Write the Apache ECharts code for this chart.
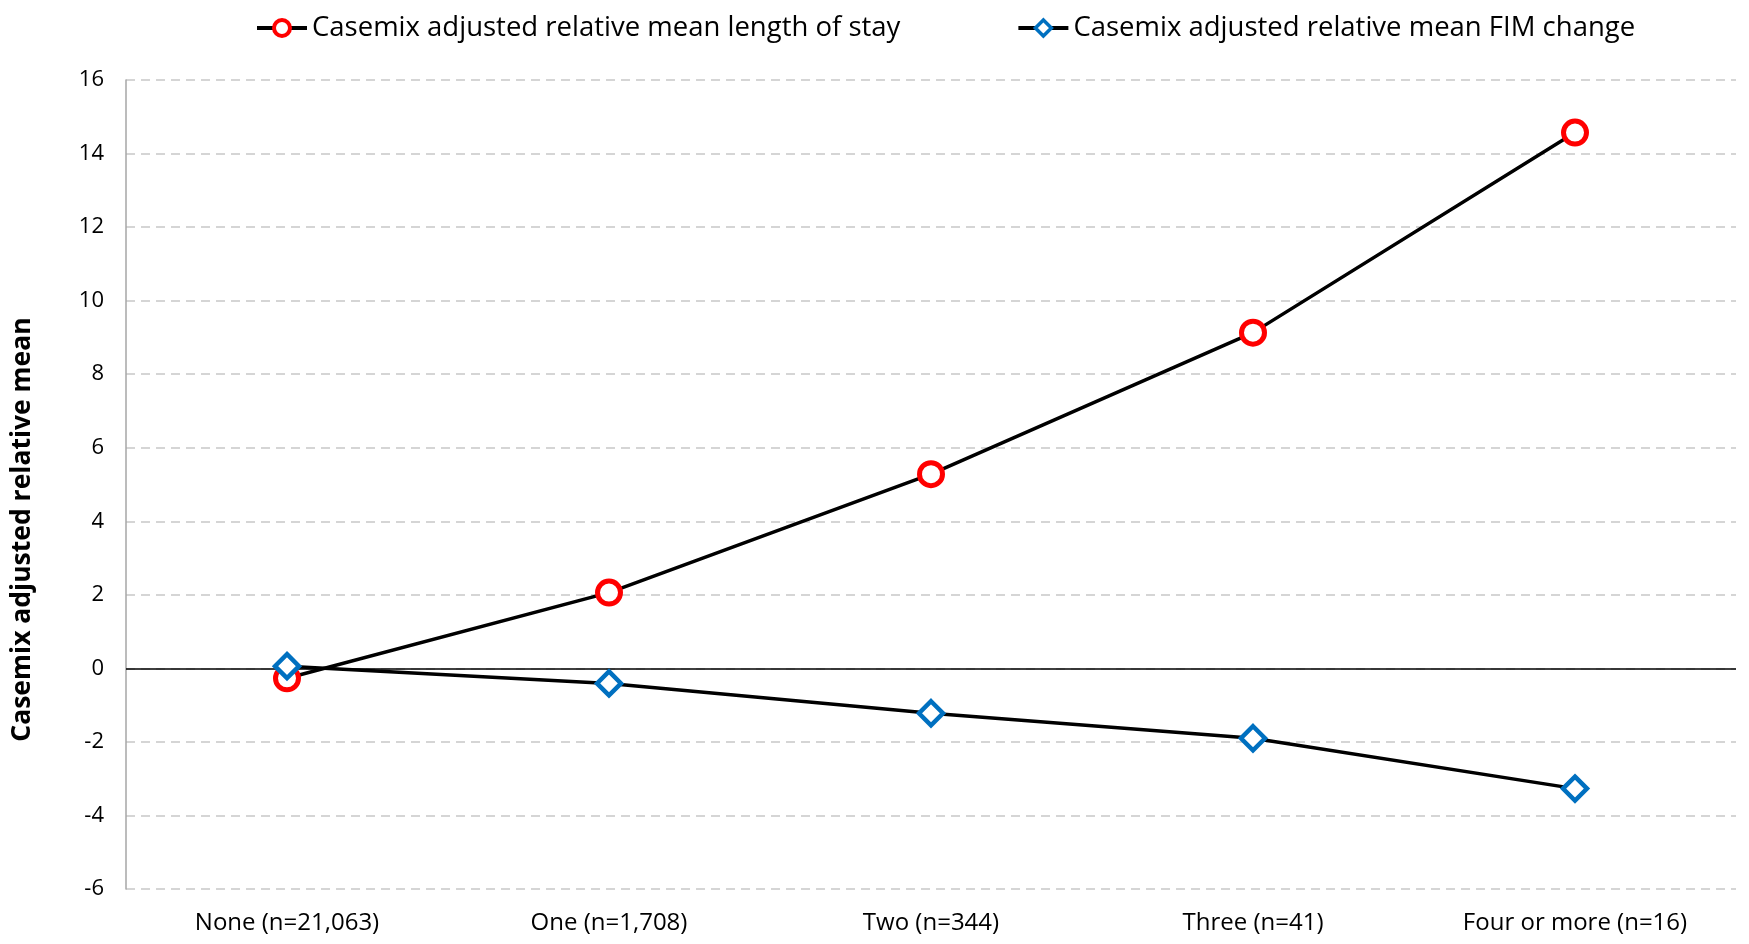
<!DOCTYPE html>
<html>
<head>
<meta charset="utf-8">
<script src="https://cdn.jsdelivr.net/npm/echarts@6/dist/echarts.min.js"></script>
<style>
  html, body { margin: 0; padding: 0; background: #fff; }
  #chart { width: 1749px; height: 944px; }
</style>
</head>
<body>
<div id="chart"></div>
<script>
// Number of complications per episode
const categories = ['None (n=21,063)', 'One (n=1,708)', 'Two (n=344)', 'Three (n=41)', 'Four or more (n=16)'];
// Casemix adjusted relative means
const losValues = [-0.27, 2.06, 5.28, 9.13, 14.57];
const fimValues = [0.06, -0.41, -1.22, -1.90, -3.27];
const seriesNames = ['Casemix adjusted relative mean length of stay', 'Casemix adjusted relative mean FIM change'];
const yAxisTitle = 'Casemix adjusted relative mean';
const yMin = -6, yMax = 16, yStep = 2;

const FONT = '"Open Sans", Lato, sans-serif';
const chart = echarts.init(document.getElementById('chart'), null, { renderer: 'canvas' });

chart.setOption({
  animation: false,
  backgroundColor: '#fff',
  textStyle: { fontFamily: FONT, color: '#000' },
  legend: {
    top: 9,
    left: 250,
    itemGap: 116,
    itemWidth: 50,
    itemHeight: 20,
    textStyle: { fontFamily: FONT, fontSize: 27.5, color: '#000' },
    data: [
      { name: seriesNames[0], lineStyle: { color: '#000', width: 4 }, itemStyle: { borderWidth: 4 } },
      { name: seriesNames[1], lineStyle: { color: '#000', width: 4 }, itemStyle: { borderWidth: 3.5 } }
    ]
  },
  grid: { left: 126, right: 13, top: 80, bottom: 55, containLabel: false },
  xAxis: {
    type: 'category',
    data: categories,
    boundaryGap: true,
    axisLine: { show: false, onZero: false },
    axisTick: { show: false },
    axisLabel: { fontFamily: FONT, fontSize: 24, color: '#000', margin: 22 }
  },
  yAxis: {
    type: 'value',
    min: yMin,
    max: yMax,
    interval: yStep,
    name: yAxisTitle,
    nameLocation: 'middle',
    nameGap: 90,
    nameRotate: 90,
    nameTextStyle: { fontFamily: FONT, fontSize: 26.5, fontWeight: 'bold', color: '#000', padding: [0, 90, 0, 0] },
    axisLine: { show: true, lineStyle: { color: '#a6a6a6', width: 1.5 } },
    axisTick: { show: false },
    axisLabel: { fontFamily: FONT, fontSize: 22, color: '#000', margin: 22 },
    splitLine: { show: true, lineStyle: { color: '#c8c8c8', type: [9, 6], width: 1.5 } }
  },
  series: [
    {
      name: seriesNames[0],
      type: 'line',
      data: losValues,
      symbol: 'circle',
      symbolSize: 23,
      lineStyle: { color: '#000', width: 3.5 },
      itemStyle: { color: '#fff', borderColor: '#ff0000', borderWidth: 5 },
      z: 3,
      markLine: {
        silent: true,
        symbol: ['none', 'none'],
        label: { show: false },
        lineStyle: { color: '#000', width: 1.5, type: 'solid' },
        data: [{ yAxis: 0 }],
        z: 1
      }
    },
    {
      name: seriesNames[1],
      type: 'line',
      data: fimValues,
      symbol: 'diamond',
      symbolSize: 24,
      lineStyle: { color: '#000', width: 3.5 },
      itemStyle: { color: '#fff', borderColor: '#0070c0', borderWidth: 4.5 },
      z: 4
    }
  ]
});
</script>
</body>
</html>
